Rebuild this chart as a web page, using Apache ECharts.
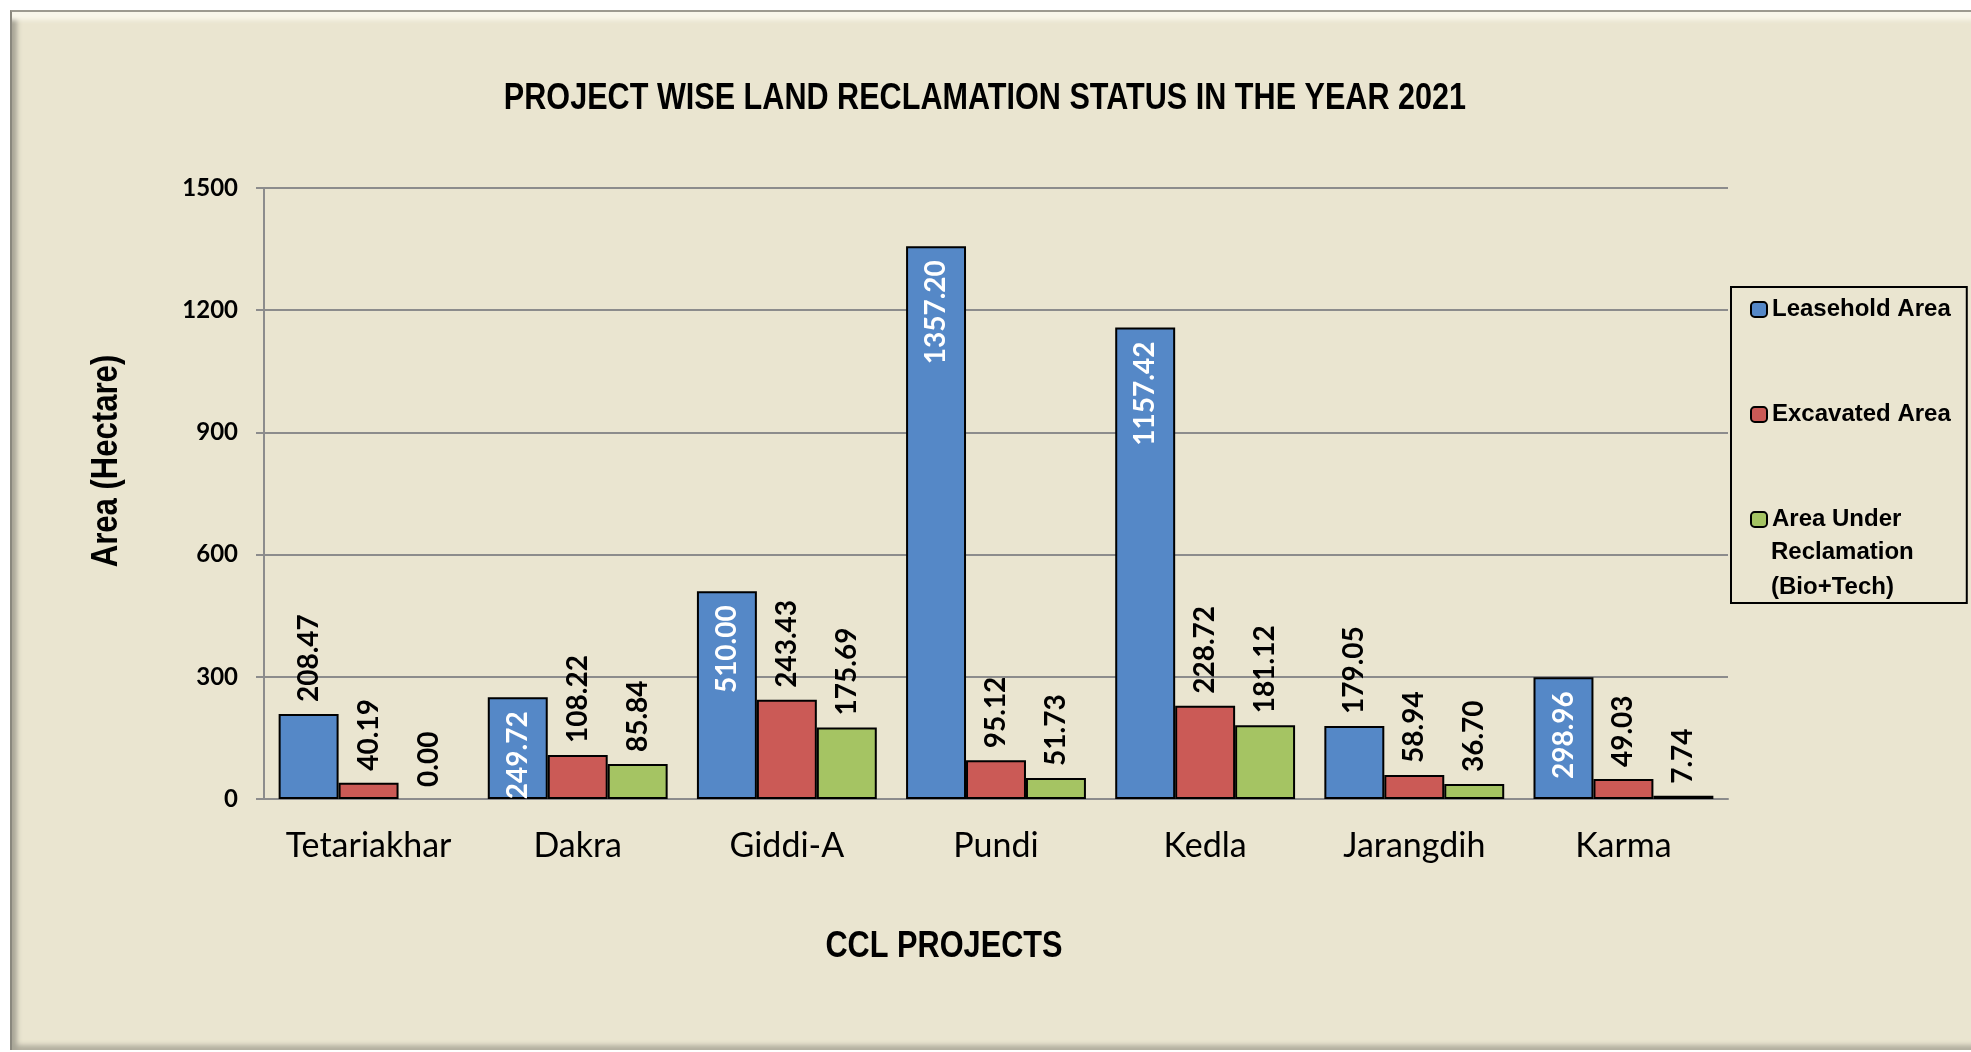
<!DOCTYPE html>
<html>

<head>
  <meta charset="utf-8">
  <title>Project wise land reclamation 2021</title>
  <script src="https://cdn.jsdelivr.net/npm/echarts@6/dist/echarts.min.js"></script>
  <style>
    html, body {
      margin: 0;
      padding: 0;
      background: #fff;
      overflow: hidden;
    }

    /* bevelled frame behind the chart */
    .frame {
      position: absolute;
      left: 10px;
      top: 10px;
      width: 1990px;
      height: 1040px;
      box-sizing: border-box;
      background: #eae5d0;
      border-top: 2px solid #9c9a90;
      border-left: 2px solid #8a887e;
      box-shadow: inset 0 14px 4px -6px #f8f6ea,
        inset 9px 0 5px -4px #a9a697,
        inset 0 -9px 5px -4px #b3b0a0;
    }

    #chart {
      position: absolute;
      left: 0;
      top: 0;
      width: 1971px;
      height: 1052px;
    }
  </style>
</head>

<body>
  <div class="frame"></div>
  <div id="chart"></div>
  <script>
    // data
    const projects = ['Tetariakhar', 'Dakra', 'Giddi-A', 'Pundi', 'Kedla', 'Jarangdih', 'Karma'];
    const leaseholdArea = [208.47, 249.72, 510.00, 1357.20, 1157.42, 179.05, 298.96];
    const excavatedArea = [40.19, 108.22, 243.43, 95.12, 228.72, 58.94, 49.03];
    const reclamationArea = [0.00, 85.84, 175.69, 51.73, 181.12, 36.70, 7.74];
    const seriesNames = ['Leasehold Area', 'Excavated Area', 'Area Under Reclamation (Bio+Tech)'];
    const yMin = 0, yMax = 1500, yStep = 300;

    const arialBold = 'bold {s}px "Liberation Sans", Arial, sans-serif';
    const calibriLike = 'Lato, "Open Sans", sans-serif';
    const font = s => arialBold.replace('{s}', s);

    const chart = echarts.init(document.getElementById('chart'));

    // black label above the bar, reading bottom to top
    const outsideLabel = {
      show: true,
      position: 'top',
      rotate: 90,
      align: 'left',
      verticalAlign: 'middle',
      distance: 12,
      color: '#000',
      fontFamily: calibriLike,
      fontWeight: 'bold',
      fontSize: 28,
      formatter: p => p.value.toFixed(2)
    };
    // white label inside the top of tall bars
    const insideLabel = Object.assign({}, outsideLabel, {
      position: 'insideTop',
      align: 'right',
      distance: 14,
      color: '#fff'
    });

    function toBars(values, labelInsideAbove) {
      return values.map(v => {
        const item = { value: v };
        if (v === 0) item.itemStyle = { borderWidth: 0 };
        if (labelInsideAbove !== undefined && v > labelInsideAbove) item.label = insideLabel;
        return item;
      });
    }

    const barStyle = (color) => ({ color: color, borderColor: '#000', borderWidth: 2 });

    // title and axis names are drawn in a condensed bold face (Arial Narrow look)
    const narrowText = (text, x, y, size, sx, rot) => ({
      type: 'text',
      x: x,
      y: y,
      rotation: rot || 0,
      scaleX: sx,
      silent: true,
      style: { text: text, font: font(size), fill: '#000', align: 'center', verticalAlign: 'middle' }
    });
    const legendLine = (text, y) => ({
      type: 'text',
      x: 1771,
      y: y,
      silent: true,
      style: { text: text, font: font(24), fill: '#000', align: 'left', verticalAlign: 'middle' }
    });

    const option = {
      animation: false,
      backgroundColor: 'transparent',
      graphic: [
        narrowText('PROJECT WISE LAND RECLAMATION STATUS IN THE YEAR 2021', 985, 99, 36, 0.85),
        narrowText('CCL PROJECTS', 944, 947, 37, 0.83),
        narrowText('Area (Hectare)', 107, 461, 37, 0.84, Math.PI / 2),
        legendLine('Reclamation', 552),
        legendLine('(Bio+Tech)', 587)
      ],
      legend: {
        orient: 'vertical',
        left: 1731,
        top: 287,
        padding: [5, 16, 66, 19],
        itemWidth: 16,
        itemHeight: 15,
        itemGap: 70,
        borderColor: '#000',
        borderWidth: 2,
        textStyle: {
          fontFamily: '"Liberation Sans", Arial, sans-serif',
          fontWeight: 'bold',
          fontSize: 24,
          lineHeight: 35,
          color: '#000'
        },
        data: seriesNames,
        formatter: name => name === seriesNames[2] ? 'Area Under' : name
      },
      grid: {
        left: 264,
        right: 243,
        top: 188,
        bottom: 253
      },
      xAxis: {
        type: 'category',
        data: projects,
        axisLine: { lineStyle: { color: '#8c8c8c', width: 2 } },
        axisTick: { length: 10, lineStyle: { color: '#8c8c8c', width: 2 } },
        axisLabel: {
          interval: 0,
          margin: 30,
          color: '#000',
          fontFamily: calibriLike,
          fontSize: 34,
          lineHeight: 34
        }
      },
      yAxis: {
        type: 'value',
        min: yMin,
        max: yMax,
        interval: yStep,
        axisLine: { show: true, lineStyle: { color: '#8c8c8c', width: 2 } },
        axisTick: { show: true, length: 8, lineStyle: { color: '#8c8c8c', width: 2 } },
        splitLine: { lineStyle: { color: '#8c8c8c', width: 2 } },
        axisLabel: {
          margin: 26,
          color: '#000',
          fontFamily: calibriLike,
          fontWeight: 'bold',
          fontSize: 24,
          formatter: v => String(v)
        }
      },
      series: [
        {
          name: seriesNames[0],
          type: 'bar',
          barGap: '0%',
          barCategoryGap: '14%',
          itemStyle: barStyle('#5588c7'),
          label: outsideLabel,
          data: toBars(leaseholdArea, 240)
        },
        {
          name: seriesNames[1],
          type: 'bar',
          itemStyle: barStyle('#cb5a56'),
          label: outsideLabel,
          data: toBars(excavatedArea)
        },
        {
          name: seriesNames[2],
          type: 'bar',
          itemStyle: barStyle('#a5c463'),
          label: outsideLabel,
          data: toBars(reclamationArea)
        }
      ]
    };

    chart.setOption(option);
  </script>
</body>

</html>
